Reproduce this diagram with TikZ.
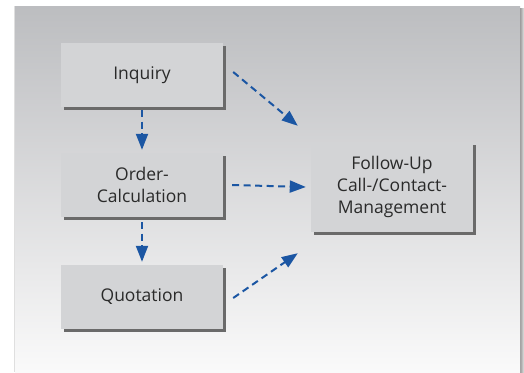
\documentclass[tikz,border=0pt]{standalone}
\usepackage{fontspec}
\setmainfont{Open Sans}
\usetikzlibrary{arrows.meta,calc}
\definecolor{boxfill}{HTML}{D3D4D6}
\definecolor{shadowc}{HTML}{6A6A6A}
\definecolor{arrowc}{HTML}{1B56A3}
\definecolor{bgtop}{HTML}{BCBDC0}
\definecolor{bgbot}{HTML}{FAFAFA}
\definecolor{txt}{HTML}{2A2A2A}
\tikzset{
  procbox/.style={fill=boxfill, minimum width=162pt, minimum height=64pt, inner sep=0pt,
    align=center, text=txt, font=\fontsize{17.5}{22}\selectfont,
    preaction={fill=shadowc, transform canvas={shift={(2.5pt,-2.5pt)}}}},
  flow/.style={draw=arrowc, line width=2pt, dash pattern=on 7pt off 4.5pt,
    -{Triangle[length=16pt,width=12pt]}}
}
\begin{document}
\begin{tikzpicture}[x=1pt,y=-1pt]
\useasboundingbox (0,0) rectangle (524,372);
\fill[white] (0,0) rectangle (524,372);
% panel shadows
\fill[gray!25] (14,6) rectangle (15.5,372);
\shade[left color=gray!80, right color=gray!20] (520,8) rectangle (524,372);
\shade[top color=bgtop, bottom color=bgbot] (15,6) rectangle (520,372);
% boxes
\node[procbox] (inq) at (142,75) {Inquiry};
\node[procbox] (ord) at (142,185) {Order-\\Calculation};
\node[procbox] (quo) at (142,297) {Quotation};
\node[procbox, minimum height=90pt] (fu) at (392,187) {Follow-Up\\Call-/Contact-\\Management};
% connectors
\draw[flow] ([yshift=-3pt]inq.south) -- ([yshift=3pt]ord.north);
\draw[flow] ([yshift=-5pt]ord.south) -- ([yshift=3pt]quo.north);
\draw[flow] ([shift={(10pt,3pt)}]inq.east) -- ([shift={(-13pt,16pt)}]fu.north west);
\draw[flow] ([xshift=9pt]ord.east) -- ([xshift=-5pt]fu.west);
\draw[flow] ([shift={(10pt,-1pt)}]quo.east) -- ([shift={(-13pt,-21pt)}]fu.south west);
\end{tikzpicture}
\end{document}
